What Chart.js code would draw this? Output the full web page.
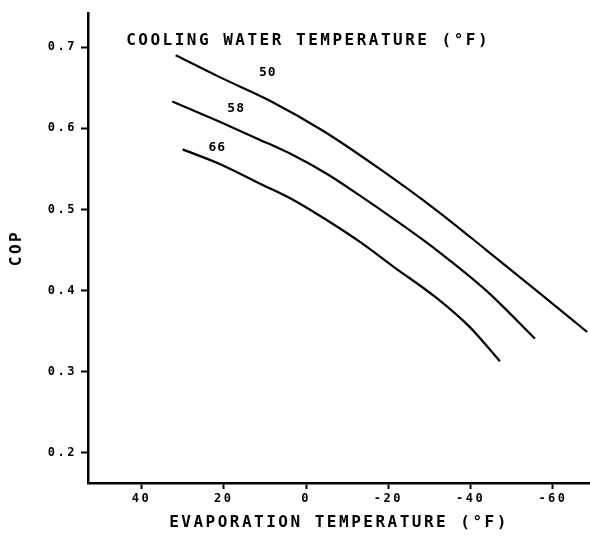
<!DOCTYPE html>
<html>
<head>
<meta charset="utf-8">
<script src="https://cdn.jsdelivr.net/npm/chart.js@4.4.0/dist/chart.umd.min.js"></script>
<style>
  html, body { margin: 0; padding: 0; background: #fff; }
  canvas { display: block; }
</style>
</head>
<body>
<canvas id="copChart" width="590" height="538"></canvas>
<script>
// Data (evaporation temp in F, COP)
const evapTemp50 = [31.7, 21.0, 8.8, -4.1, -17.9, -31.7, -43.8, -56.0, -68.3];
const cop50      = [0.690, 0.663, 0.634, 0.597, 0.550, 0.499, 0.450, 0.400, 0.349];
const evapTemp58 = [32.5, 21.0, 11.3, 3.2, -5.0, -13.1, -21.1, -31.7, -43.8, -55.6];
const cop58      = [0.633, 0.608, 0.586, 0.567, 0.544, 0.517, 0.489, 0.450, 0.400, 0.341];
const evapTemp66 = [30.0, 21.0, 11.3, 3.2, -5.0, -13.1, -21.1, -31.7, -39.8, -47.1];
const cop66      = [0.574, 0.556, 0.532, 0.512, 0.487, 0.460, 0.430, 0.391, 0.355, 0.313];

const seriesNames = ['50', '58', '66'];
const xTicks = [40, 20, 0, -20, -40, -60];
const yTicks = [0.2, 0.3, 0.4, 0.5, 0.6, 0.7];

// label anchors in data units
const labelTemp = [9.3, 17.0, 21.6];
const labelCop  = [0.668, 0.624, 0.576];
const titleText = 'COOLING WATER TEMPERATURE (°F)';

const FONT = '"DejaVu Sans Mono", monospace';
const SPACING = '2.5px';

function toPoints(xs, ys) {
    return xs.map((x, i) => ({ x: x, y: ys[i] }));
}

// keeps the wide plotter-style spacing on every text
const spacingPlugin = {
    id: 'spacing',
    beforeUpdate: chart => { chart.ctx.letterSpacing = SPACING; },
    beforeDraw: chart => { chart.ctx.letterSpacing = SPACING; }
};

// in-plot title + curve labels
const labelPlugin = {
    id: 'curveLabels',
    afterDatasetsDraw: chart => {
        const ctx = chart.ctx, xs = chart.scales.x, ys = chart.scales.y;
        ctx.save();
        ctx.fillStyle = '#000';
        ctx.textAlign = 'center';
        ctx.textBaseline = 'middle';
        ctx.letterSpacing = SPACING;
        ctx.font = 'bold 16px ' + FONT;
        ctx.fillText(titleText, xs.getPixelForValue(-0.5), ys.getPixelForValue(0.708));
        ctx.letterSpacing = '1px';
        ctx.font = 'bold 13px ' + FONT;
        seriesNames.forEach((n, i) => {
            ctx.fillText(n, xs.getPixelForValue(labelTemp[i]), ys.getPixelForValue(labelCop[i]));
        });
        ctx.restore();
    }
};

const lineStyle = { borderColor: '#000', borderWidth: 2.2, pointRadius: 0, cubicInterpolationMode: 'monotone', fill: false, showLine: true };

new Chart(document.getElementById('copChart'), {
    type: 'scatter',
    data: {
        datasets: [
            { label: seriesNames[0], data: toPoints(evapTemp50, cop50), ...lineStyle },
            { label: seriesNames[1], data: toPoints(evapTemp58, cop58), ...lineStyle },
            { label: seriesNames[2], data: toPoints(evapTemp66, cop66), ...lineStyle }
        ]
    },
    options: {
        responsive: false,
        animation: false,
        layout: { padding: { top: 13, right: 0, left: 0, bottom: 0 } },
        plugins: { legend: { display: false }, tooltip: { enabled: false } },
        scales: {
            x: {
                type: 'linear',
                reverse: true,
                min: -69,
                max: 53,
                afterBuildTicks: s => { s.ticks = xTicks.map(v => ({ value: v })); },
                afterFit: s => { s.height = 55; },
                grid: { drawOnChartArea: false, drawTicks: true, tickLength: 6, tickWidth: 2, color: '#000' },
                border: { display: true, width: 2.5, color: '#000' },
                ticks: { color: '#000', padding: 3, maxRotation: 0, font: { family: FONT, size: 12, weight: 'bold' } },
                title: { display: true, text: 'EVAPORATION TEMPERATURE (°F)', color: '#000', padding: { top: 0, bottom: 6 },
                         font: { family: FONT, size: 16, weight: 'bold' } }
            },
            y: {
                type: 'linear',
                min: 0.163,
                max: 0.742,
                afterBuildTicks: s => { s.ticks = yTicks.map(v => ({ value: v })); },
                afterFit: s => { s.width = 88; },
                grid: { drawOnChartArea: false, drawTicks: true, tickLength: 7, tickWidth: 2, color: '#000' },
                border: { display: true, width: 2.5, color: '#000' },
                ticks: { color: '#000', padding: 4, callback: v => v.toFixed(1), font: { family: FONT, size: 12, weight: 'bold' } },
                title: { display: true, text: 'COP', color: '#000', padding: { top: 7, bottom: 0 },
                         font: { family: FONT, size: 16, weight: 'bold' } }
            }
        }
    },
    plugins: [spacingPlugin, labelPlugin]
});
</script>
</body>
</html>
